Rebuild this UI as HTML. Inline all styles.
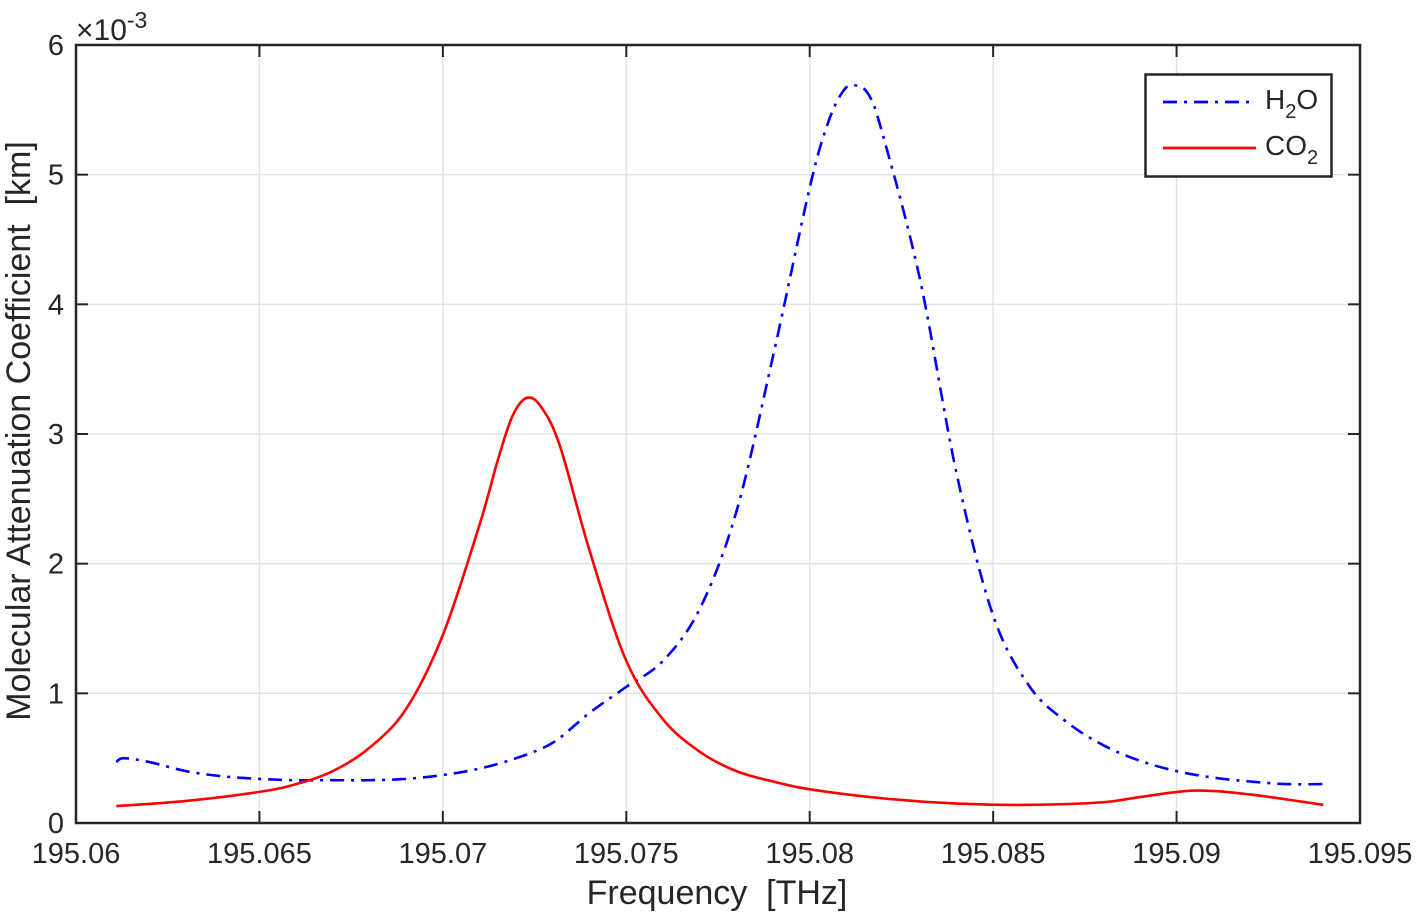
<!DOCTYPE html>
<html><head><meta charset="utf-8"><style>
body{margin:0;background:#fff;}
svg text{font-family:"Liberation Sans",sans-serif;fill:#262626;}
</style></head><body>
<svg id="chart" width="1421" height="917">
<g id="grid"></g>
<g id="axes"></g>
<g id="series"></g>
<text x="76" y="40" font-size="30">×10<tspan dy="-12" font-size="23">-3</tspan></text>
<text x="717" y="904" font-size="34" text-anchor="middle" xml:space="preserve">Frequency  [THz]</text>
<text transform="translate(30,431) rotate(-90)" font-size="34" text-anchor="middle" xml:space="preserve">Molecular Attenuation Coefficient  [km]</text>
<g>
<rect x="1145.5" y="74.5" width="186" height="102" fill="#fff" stroke="#262626" stroke-width="2.5"/>
<line x1="1163" y1="102" x2="1256" y2="102" stroke="#0000ff" stroke-width="2.8" stroke-dasharray="14,7,3,7"/>
<text x="1265" y="109" font-size="28">H<tspan dy="9" font-size="20">2</tspan><tspan dy="-9">O</tspan></text>
<line x1="1163" y1="148" x2="1256" y2="148" stroke="#ff0000" stroke-width="2.8"/>
<text x="1265" y="155" font-size="28">CO<tspan dy="9" font-size="20">2</tspan></text>
</g>
</svg>
<script>
const xTicks=[195.06,195.065,195.07,195.075,195.08,195.085,195.09,195.095];
const xTickLabels=["195.06","195.065","195.07","195.075","195.08","195.085","195.09","195.095"];
const yTicks=[0,1,2,3,4,5,6];
const h2oX=[195.0611,195.0613,195.062,195.063,195.064,195.065,195.066,195.067,195.068,195.069,195.070,195.071,195.072,195.073,195.074,195.075,195.076,195.077,195.078,195.079,195.080,195.0805,195.0809,195.0812,195.0816,195.082,195.083,195.084,195.085,195.086,195.087,195.088,195.089,195.090,195.091,195.092,195.093,195.094];
const h2oY=[0.47,0.50,0.47,0.40,0.36,0.34,0.33,0.33,0.33,0.34,0.37,0.42,0.50,0.62,0.85,1.05,1.25,1.65,2.4,3.6,4.9,5.4,5.64,5.69,5.62,5.3,4.2,2.7,1.6,1.05,0.78,0.6,0.48,0.40,0.35,0.32,0.30,0.30];
const co2X=[195.0611,195.063,195.065,195.066,195.067,195.068,195.069,195.070,195.071,195.0715,195.0719,195.0723,195.0727,195.0732,195.074,195.075,195.076,195.077,195.078,195.079,195.080,195.082,195.084,195.086,195.088,195.089,195.0905,195.092,195.094];
const co2Y=[0.13,0.17,0.24,0.30,0.40,0.58,0.88,1.45,2.3,2.8,3.14,3.28,3.2,2.9,2.1,1.25,0.8,0.55,0.40,0.32,0.26,0.19,0.15,0.14,0.16,0.20,0.25,0.22,0.14];
const L=76,R=1360,T=45,B=823;
const xs=v=>L+(v-195.06)/0.035*(R-L);
const ys=v=>B-v/6*(B-T);
const NS="http://www.w3.org/2000/svg";
function mk(tag,attrs,parent){const e=document.createElementNS(NS,tag);for(const k in attrs)e.setAttribute(k,attrs[k]);parent.appendChild(e);return e;}
const grid=document.getElementById('grid'),axes=document.getElementById('axes'),series=document.getElementById('series');
xTicks.forEach((t,i)=>{const x=xs(t);
 const g=mk('line',{x1:x,x2:x,y1:T,y2:B,stroke:'#e3e3e3','stroke-width':1.5},grid);
 
 
 mk('line',{x1:x,x2:x,y1:B,y2:B-12,stroke:'#262626','stroke-width':2},axes);
 mk('line',{x1:x,x2:x,y1:T,y2:T+12,stroke:'#262626','stroke-width':2},axes);
 const tx=mk('text',{x:x,y:863,'font-size':29,'text-anchor':'middle'},axes);
 tx.textContent=xTickLabels[i];
 
 
});
yTicks.forEach(t=>{const y=ys(t);
 const g=mk('line',{x1:L,x2:R,y1:y,y2:y,stroke:'#e3e3e3','stroke-width':1.5},grid);
 
 
 mk('line',{x1:L,x2:L+12,y1:y,y2:y,stroke:'#262626','stroke-width':2},axes);
 mk('line',{x1:R,x2:R-12,y1:y,y2:y,stroke:'#262626','stroke-width':2},axes);
 const tx=mk('text',{x:L-12,y:y+10,'font-size':29,'text-anchor':'end'},axes);
 tx.textContent=String(t);
 
 
});
mk('rect',{x:L,y:T,width:R-L,height:B-T,fill:'none',stroke:'#262626','stroke-width':2.5},axes);
function path(X,Y){const p=X.map((x,i)=>[xs(x),ys(Y[i])]);let d='M'+p[0][0]+','+p[0][1];
 for(let i=0;i<p.length-1;i++){const p0=p[Math.max(0,i-1)],p1=p[i],p2=p[i+1],p3=p[Math.min(p.length-1,i+2)];
  d+=' C'+(p1[0]+(p2[0]-p0[0])/6)+','+(p1[1]+(p2[1]-p0[1])/6)+' '+(p2[0]-(p3[0]-p1[0])/6)+','+(p2[1]-(p3[1]-p1[1])/6)+' '+p2[0]+','+p2[1];}
 return d;}
const h=mk('path',{d:path(h2oX,h2oY),fill:'none',stroke:'#0000ff','stroke-width':2.6,'stroke-dasharray':'14,7,3,7'},series);


const c=mk('path',{d:path(co2X,co2Y),fill:'none',stroke:'#ff0000','stroke-width':2.6},series);


</script>
</body></html>
